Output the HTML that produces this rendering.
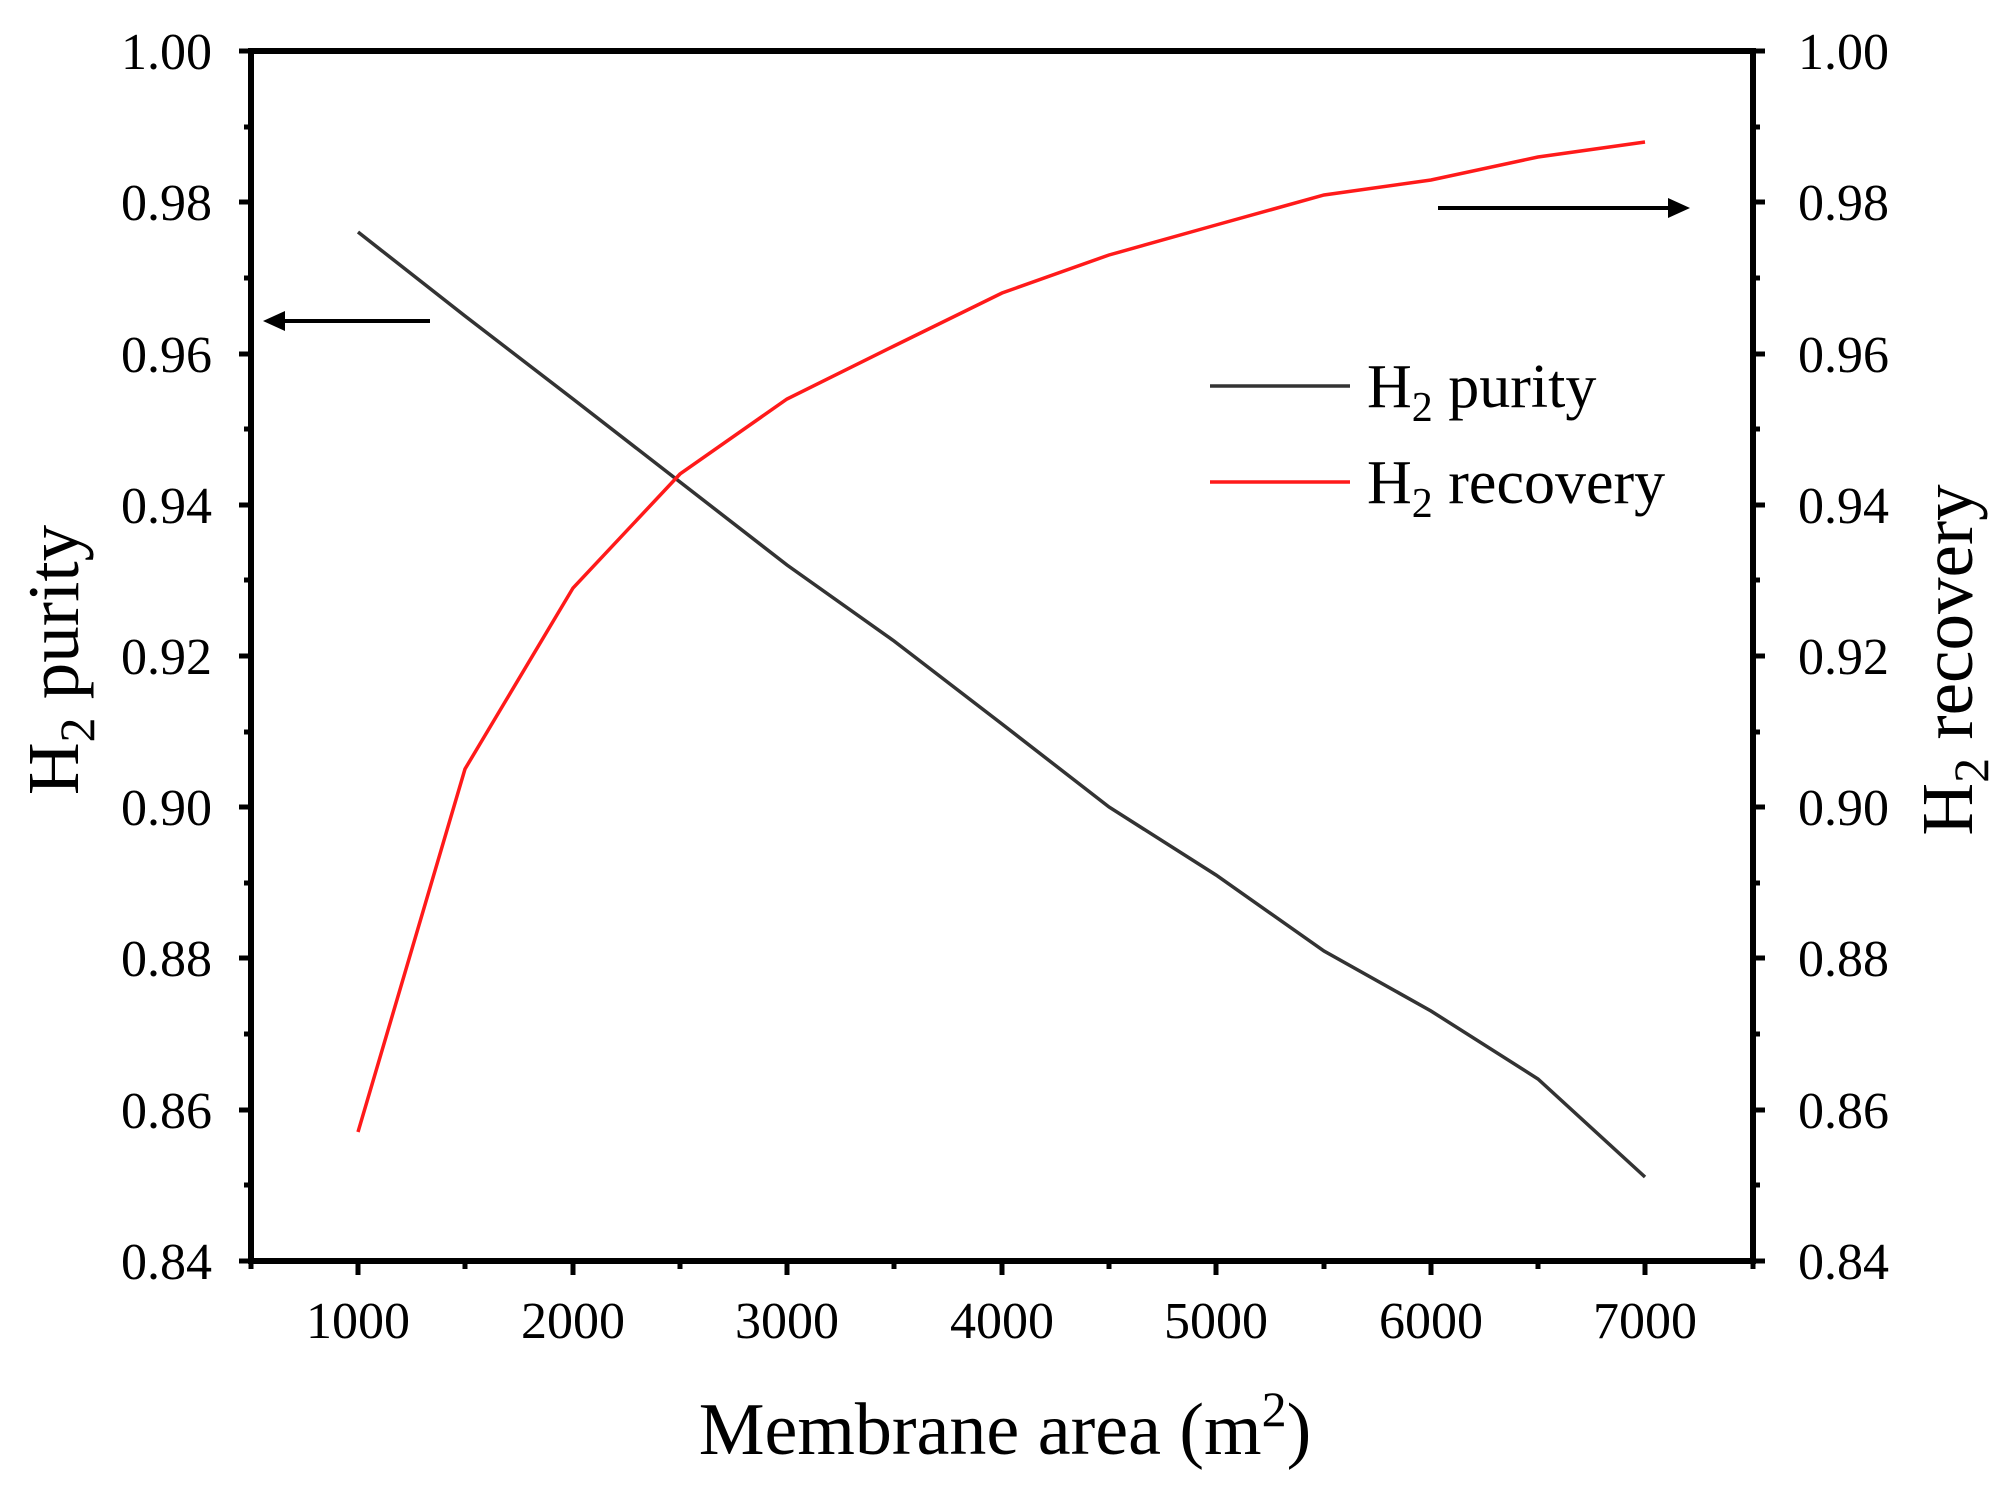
<!DOCTYPE html>
<html><head><meta charset="utf-8"><style>html,body{margin:0;padding:0;background:#fff}</style></head>
<body>
<svg width="2001" height="1491" viewBox="0 0 2001 1491" xmlns="http://www.w3.org/2000/svg" font-family="Liberation Serif, serif">
<g stroke="#000" stroke-width="5" fill="none">
<path d="M239 51H251M239 202H251M239 354H251M239 505H251M239 656H251M239 807H251M239 958H251M239 1110H251M239 1261H251"/>
<path d="M244 127H251M244 278H251M244 429H251M244 580H251M244 732H251M244 883H251M244 1034H251M244 1185H251"/>
<path d="M1753 51H1765M1753 202H1765M1753 354H1765M1753 505H1765M1753 656H1765M1753 807H1765M1753 958H1765M1753 1110H1765M1753 1261H1765"/>
<path d="M1753 127H1760M1753 278H1760M1753 429H1760M1753 580H1760M1753 732H1760M1753 883H1760M1753 1034H1760M1753 1185H1760"/>
<path d="M358 1261V1275M573 1261V1275M787 1261V1275M1002 1261V1275M1216 1261V1275M1431 1261V1275M1645 1261V1275"/>
<path d="M251 1261V1269M465 1261V1269M680 1261V1269M894 1261V1269M1109 1261V1269M1324 1261V1269M1538 1261V1269M1753 1261V1269"/>
</g>
<rect x="251" y="51" width="1502" height="1210" fill="none" stroke="#000" stroke-width="6"/>
<polyline fill="none" stroke="#333" stroke-width="3.5" points="358,232 465,316 573,399 680,482 787,565 894,641 1002,724 1109,807 1216,875 1324,951 1431,1011 1538,1079 1645,1177"/>
<polyline fill="none" stroke="#ff1a1a" stroke-width="3.5" points="358,1132 465,769 573,588 680,474 787,399 894,346 1002,293 1109,255 1216,225 1324,195 1431,180 1538,157 1645,142"/>
<line x1="430" y1="321" x2="280" y2="321" stroke="#000" stroke-width="4"/>
<polygon points="263,321 285,311 285,331" fill="#000"/>
<line x1="1438" y1="208" x2="1672" y2="208" stroke="#000" stroke-width="4"/>
<polygon points="1690,208 1668,198 1668,218" fill="#000"/>
<line x1="1210" y1="386" x2="1350" y2="386" stroke="#333" stroke-width="3.5"/>
<line x1="1210" y1="482" x2="1350" y2="482" stroke="#ff1a1a" stroke-width="3.5"/>
<g font-size="62" fill="#000">
<text x="1367" y="407">H<tspan font-size="42" dy="14">2</tspan><tspan dy="-14"> purity</tspan></text>
<text x="1367" y="503">H<tspan font-size="42" dy="14">2</tspan><tspan dy="-14"> recovery</tspan></text>
</g>
<g font-size="52" fill="#000" text-anchor="end">
<text x="212" y="69">1.00</text><text x="212" y="220">0.98</text><text x="212" y="372">0.96</text><text x="212" y="523">0.94</text><text x="212" y="674">0.92</text><text x="212" y="825">0.90</text><text x="212" y="976">0.88</text><text x="212" y="1128">0.86</text><text x="212" y="1279">0.84</text>
</g>
<g font-size="52" fill="#000">
<text x="1798" y="69">1.00</text><text x="1798" y="220">0.98</text><text x="1798" y="372">0.96</text><text x="1798" y="523">0.94</text><text x="1798" y="674">0.92</text><text x="1798" y="825">0.90</text><text x="1798" y="976">0.88</text><text x="1798" y="1128">0.86</text><text x="1798" y="1279">0.84</text>
</g>
<g font-size="52" fill="#000" text-anchor="middle">
<text x="358" y="1338">1000</text><text x="573" y="1338">2000</text><text x="787" y="1338">3000</text><text x="1002" y="1338">4000</text><text x="1216" y="1338">5000</text><text x="1431" y="1338">6000</text><text x="1645" y="1338">7000</text>
</g>
<text x="1005" y="1454" font-size="74" text-anchor="middle">Membrane area (m<tspan font-size="50" dy="-28">2</tspan><tspan dy="28">)</tspan></text>
<text transform="translate(78,660) rotate(-90)" font-size="73" text-anchor="middle">H<tspan font-size="50" dy="16">2</tspan><tspan dy="-16"> purity</tspan></text>
<text transform="translate(1972,660) rotate(-90)" font-size="73" text-anchor="middle">H<tspan font-size="50" dy="16">2</tspan><tspan dy="-16"> recovery</tspan></text>
</svg>
</body></html>
